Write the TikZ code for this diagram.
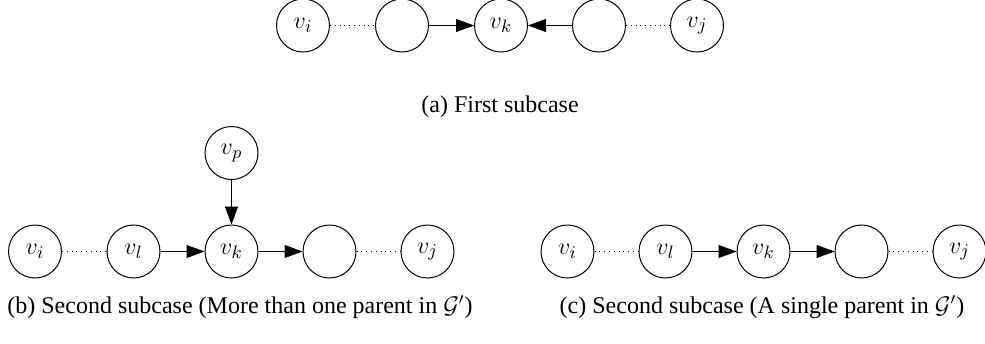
\documentclass[tikz,border=0pt]{standalone}
\usepackage{fontspec}
\setmainfont{Liberation Serif}
\usetikzlibrary{arrows.meta}
\begin{document}
\begin{tikzpicture}[x=0.5pt,y=-0.5pt,
  vtx/.style={circle,draw,line width=0.5pt,minimum size=26.5pt,inner sep=0pt,font=\fontsize{12.5}{14}\selectfont},
  arr/.style={line width=0.5pt,-{Triangle[length=9pt,width=6.5pt]}},
  dots/.style={dotted},
  captext/.style={font=\fontsize{12}{14}\selectfont}]
\useasboundingbox (0,0) rectangle (985,343);
% (a)
\node[vtx] (a1) at (303,25.5) {$v_i$};
\node[vtx] (a2) at (402,25.5) {};
\node[vtx] (a3) at (501,25.5) {$v_k$};
\node[vtx] (a4) at (599,25.5) {};
\node[vtx] (a5) at (697,25.5) {$v_j$};
\draw[dots] (a1) -- (a2);
\draw[arr] (a2) -- (a3);
\draw[arr] (a4) -- (a3);
\draw[dots] (a4) -- (a5);
\node[captext] (ca) at (500,107) {(a) First subcase};
% (b)
\node[vtx] (bp) at (231.5,153) {$v_p$};
\node[vtx] (b1) at (35,251.5) {$v_i$};
\node[vtx] (b2) at (133.5,251.5) {$v_l$};
\node[vtx] (b3) at (231.5,251.5) {$v_k$};
\node[vtx] (b4) at (329.5,251.5) {};
\node[vtx] (b5) at (427.5,251.5) {$v_j$};
\draw[dots] (b1) -- (b2);
\draw[arr] (b2) -- (b3);
\draw[arr] (b3) -- (b4);
\draw[dots] (b4) -- (b5);
\draw[arr] (bp) -- (b3);
\node[captext] (cb) at (240,307) {(b) Second subcase (More than one parent in $\mathcal{G}'$)};
% (c)
\node[vtx] (c1) at (567.5,251.5) {$v_i$};
\node[vtx] (c2) at (665.5,251.5) {$v_l$};
\node[vtx] (c3) at (763.5,251.5) {$v_k$};
\node[vtx] (c4) at (861.5,251.5) {};
\node[vtx] (c5) at (959.5,251.5) {$v_j$};
\draw[dots] (c1) -- (c2);
\draw[arr] (c2) -- (c3);
\draw[arr] (c3) -- (c4);
\draw[dots] (c4) -- (c5);
\node[captext] (cc) at (762,307) {(c) Second subcase (A single parent in $\mathcal{G}'$)};
\end{tikzpicture}
\end{document}
